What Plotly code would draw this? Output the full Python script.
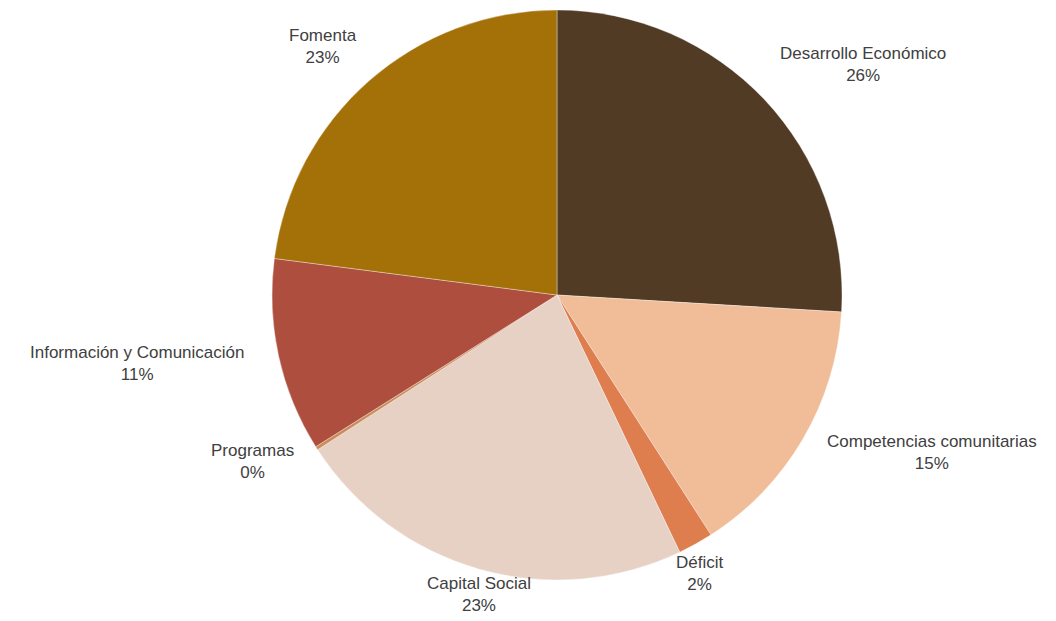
import numpy as np
import plotly.graph_objects as go

# Slice data (clockwise from 12 o'clock)
labels = [
    "Desarrollo Económico",
    "Competencias comunitarias",
    "Déficit",
    "Capital Social",
    "Programas",
    "Información y Comunicación",
    "Fomenta",
]
values = [26, 15, 2, 23, 0.2, 11, 23]
colors = ["#513B24", "#F1BD99", "#DE7E4E", "#E7D1C4", "#C98C5A", "#AE4E3E", "#A47008"]

W, H = 1056, 621
CX, CY, R = 557, 295, 285  # pie centre and radius in pixels

fig = go.Figure(
    go.Pie(
        labels=labels,
        values=values,
        sort=False,
        direction="clockwise",
        rotation=0,
        marker=dict(colors=colors, line=dict(color="rgba(255,255,255,0.6)", width=0.6)),
        textinfo="none",
        hoverinfo="label+percent",
        showlegend=False,
        domain=dict(x=[(CX - R) / W, (CX + R) / W], y=[1 - (CY + R) / H, 1 - (CY - R) / H]),
    )
)

# Outside labels placed along each slice's mid-angle; side labels sit
# further from the rim than the ones above/below the pie
total = float(sum(values))
cum = np.concatenate([[0.0], np.cumsum(values)])
annotations = []
for i, lab in enumerate(labels):
    mid = (cum[i] + cum[i + 1]) / 2 / total * 2 * np.pi
    ux, uy = np.sin(mid), -np.cos(mid)
    d = R + 35 * ux ** 2
    px, py = CX + d * ux, CY + d * uy
    xanchor = "center" if abs(ux) < 0.5 else ("left" if ux > 0 else "right")
    yanchor = "middle" if abs(uy) < 0.55 else ("top" if uy > 0 else "bottom")
    pct = values[i] / total * 100
    annotations.append(
        dict(
            x=px / W,
            y=1 - py / H,
            xref="paper",
            yref="paper",
            text=f"{lab}<br>{pct:.0f}%",
            showarrow=False,
            xanchor=xanchor,
            yanchor=yanchor,
            align="center",
            font=dict(family="Liberation Sans, Arial, sans-serif", size=17, color="#404040"),
        )
    )

fig.update_layout(
    width=W,
    height=H,
    margin=dict(l=0, r=0, t=0, b=0),
    paper_bgcolor="white",
    plot_bgcolor="white",
    annotations=annotations,
)

fig.write_html("out.html")
